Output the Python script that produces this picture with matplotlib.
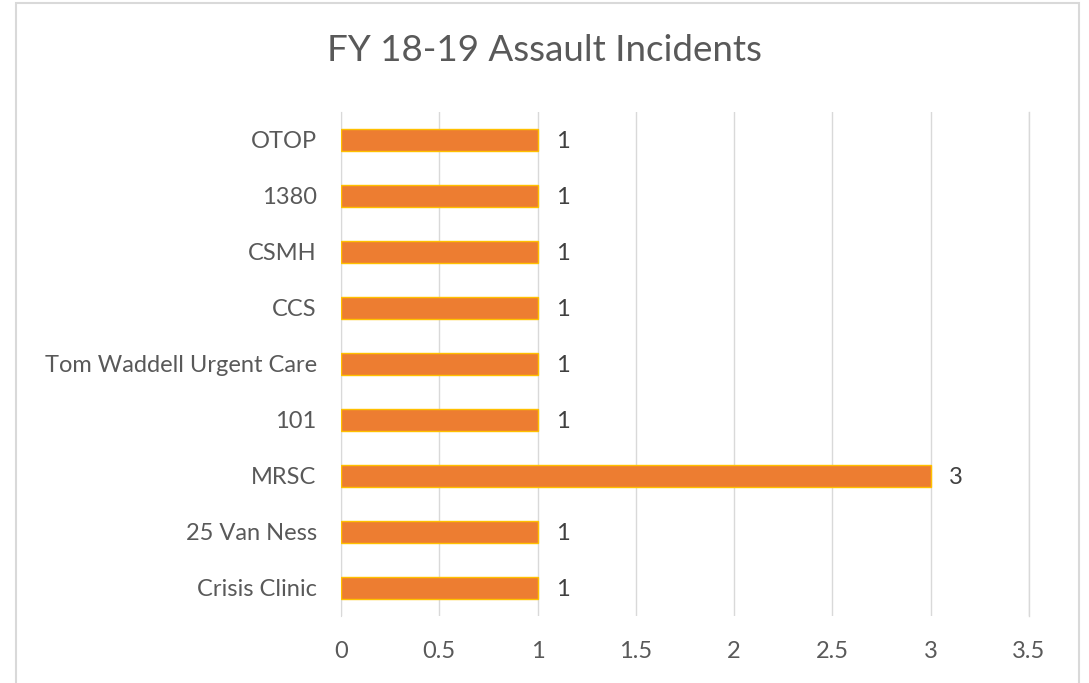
import matplotlib.pyplot as plt
from matplotlib.patches import Rectangle

# datos del gráfico (de abajo hacia arriba)
sites = ['Crisis Clinic', '25 Van Ness', 'MRSC', '101', 'Tom Waddell Urgent Care',
         'CCS', 'CSMH', '1380', 'OTOP']
incidents = [1, 1, 3, 1, 1, 1, 1, 1, 1]
xticks = [0, 0.5, 1, 1.5, 2, 2.5, 3, 3.5]

plt.rcParams['font.family'] = ['Lato', 'DejaVu Sans']

fig = plt.figure(figsize=(10.89, 6.83), dpi=100)
ax = fig.add_axes([0.3131, 0.0981, 0.6318, 0.738])

ax.barh(range(len(sites)), incidents, height=0.39, color='#ED7D31',
        edgecolor='#FFC000', linewidth=1, zorder=3)

for i, v in enumerate(incidents):
    ax.text(v + 0.127, i - 0.03, str(v), va='center', ha='center', fontsize=17, color='#404040')

ax.set_xlim(0, 3.5)
ax.set_ylim(-0.5, len(sites) - 0.5)
ax.set_xticks(xticks)
ax.set_xticklabels([f'{t:g}' for t in xticks])
ax.set_yticks(range(len(sites)))
ax.set_yticklabels(sites)
ax.tick_params(axis='both', length=0, labelsize=17, colors='#595959')
ax.tick_params(axis='x', pad=18)
ax.tick_params(axis='y', pad=17.5)
ax.xaxis.grid(True, color='#D9D9D9', linewidth=1, zorder=0)
ax.axvline(3.5, color='#D9D9D9', linewidth=1, zorder=0, clip_on=False)
for s in ['top', 'right', 'bottom']:
    ax.spines[s].set_visible(False)
ax.spines['left'].set_color('#D9D9D9')

fig.text(0.5, 0.926, 'FY 18-19 Assault Incidents', ha='center', va='center',
         fontsize=26.5, color='#595959')

# borde del gráfico
fig.patches.append(Rectangle((16 / 1089, -0.01), 1063 / 1089, 1.0 - 3 / 683 + 0.01,
                             transform=fig.transFigure, fill=False,
                             edgecolor='#D9D9D9', linewidth=1.5))

fig.savefig('out.png', dpi=100)
